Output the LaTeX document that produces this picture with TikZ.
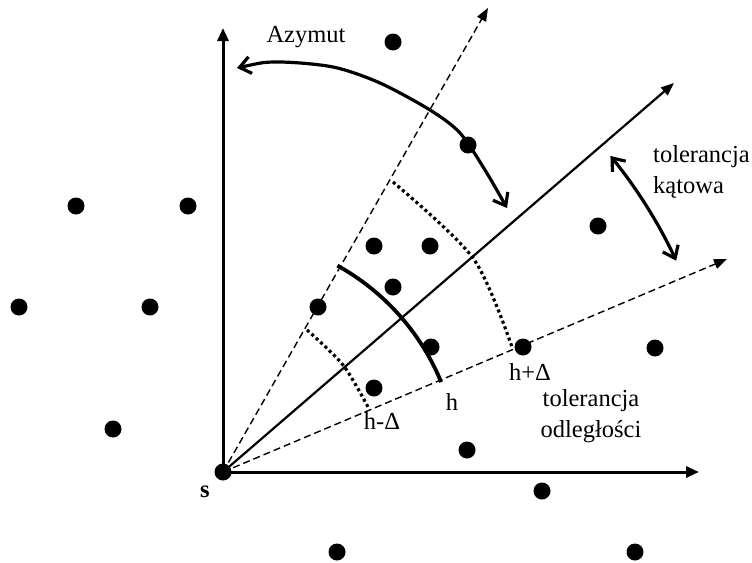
\documentclass[tikz,border=0pt]{standalone}
\usepackage{fontspec}
\setmainfont{Liberation Serif}
\usetikzlibrary{arrows.meta,calc}
\begin{document}
\begin{tikzpicture}[x=1pt,y=-1pt,
  pt/.style={circle,fill=black,inner sep=0pt,minimum size=17pt},
  lbl/.style={font=\fontsize{24.5}{31}\selectfont,inner sep=0pt},
  axis/.style={line width=3pt,-{Triangle[length=13pt,width=11pt]}},
  mainray/.style={line width=2.2pt,-{Triangle[length=13pt,width=10pt]}},
  dashray/.style={line width=1.4pt,dash pattern=on 7pt off 4pt,-{Triangle[length=13pt,width=10pt]}},
  dotarc/.style={line width=3.2pt,dash pattern=on 3pt off 3pt},
  curvearrow/.style={line width=3.2pt,{Straight Barb[length=11pt,width=17pt]}-{Straight Barb[length=11pt,width=17pt]}}
]
\useasboundingbox (0,0) rectangle (752,562);
% origin and axes
\coordinate (s) at (223,472);
\coordinate (ytip) at (223,28);
\coordinate (xtip) at (699,472);
\coordinate (mtip) at (674,83);
\coordinate (utip) at (488,8);
\coordinate (ltip) at (727,259);
\draw[axis] (s) -- (ytip);
\draw[axis] (s) -- (xtip);
\draw[mainray] (s) -- (mtip);
\draw[dashray] (s) -- (utip);
\draw[dashray] (s) -- (ltip);
% distance arcs
\draw[line width=3.8pt] (s) ++(-61:236) arc[start angle=-61,end angle=-22.4,radius=236];
\draw[dotarc] plot[smooth] coordinates {(393,182) (473,258) (512,347)};
\draw[dotarc] plot[smooth] coordinates {(307,330) (343,365) (368,407)};
% curved arrows
\draw[curvearrow] plot[smooth] coordinates {(237,68) (277,62) (333,67) (380,83) (430,110) (460,133) (485,170) (507,208)};
\draw[curvearrow] (s) ++(-39.2:500) arc[start angle=-39.2,end angle=-25,radius=500];
% data points
\node[pt] (s0) at (s) {};
\node[pt] (p1) at (393,42) {};
\node[pt] (p2) at (468,145) {};
\node[pt] (p3) at (76,206) {};
\node[pt] (p4) at (188,206) {};
\node[pt] (p5) at (374,246) {};
\node[pt] (p6) at (430,246) {};
\node[pt] (p7) at (598,226) {};
\node[pt] (p8) at (19,307) {};
\node[pt] (p9) at (150,307) {};
\node[pt] (p10) at (318,307) {};
\node[pt] (p11) at (393,287) {};
\node[pt] (p12) at (431,347) {};
\node[pt] (p13) at (523,347) {};
\node[pt] (p14) at (655,348) {};
\node[pt] (p15) at (374,388) {};
\node[pt] (p16) at (113,429) {};
\node[pt] (p17) at (467,450) {};
\node[pt] (p18) at (542,491) {};
\node[pt] (p19) at (337,552) {};
\node[pt] (p20) at (635,552) {};
% labels
\node[lbl] (tAz) at (306,37) {Azymut};
\node[lbl,anchor=west,align=left] (tKat) at (653,172) {tolerancja\\kątowa};
\node[lbl,align=center] (tOdl) at (591,416) {tolerancja\\odległości};
\node[lbl] (th) at (452,402) {h};
\node[lbl] (thp) at (530,372) {h+Δ};
\node[lbl] (thm) at (382,421) {h-Δ};
\node[lbl,font=\fontsize{24.5}{31}\selectfont\bfseries] (ts) at (205,492) {s};
\end{tikzpicture}
\end{document}
